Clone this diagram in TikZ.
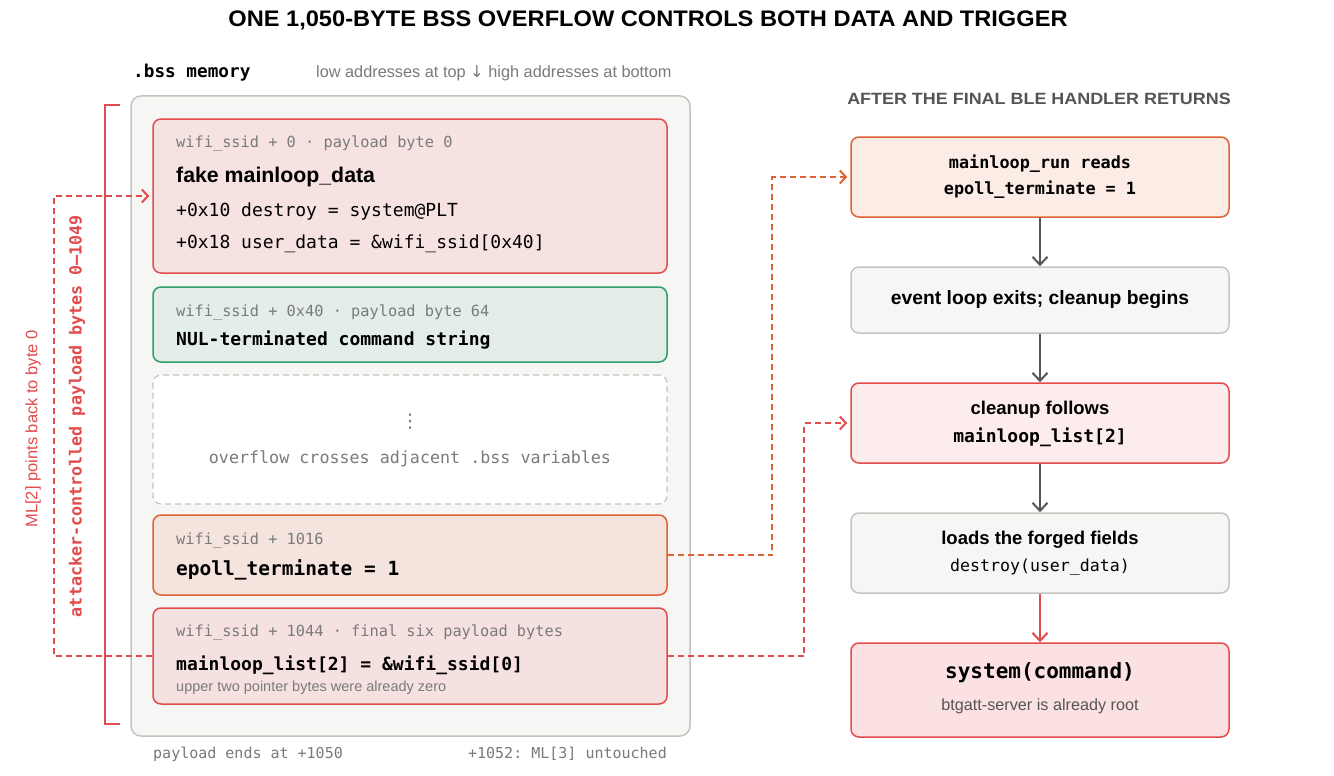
\documentclass[tikz,border=0pt]{standalone}
\usepackage{fontspec}
\setmainfont{Liberation Sans}
\setsansfont{Liberation Sans}
\setmonofont{DejaVu Sans Mono}
\newfontfamily\dejavu{DejaVu Sans}
\usetikzlibrary{arrows.meta}
\definecolor{redS}{HTML}{E24C4C}
\definecolor{orS}{HTML}{DF6234}
\definecolor{grS}{HTML}{2E9E6B}
\definecolor{gyS}{HTML}{C4C4C0}
\definecolor{contF}{HTML}{F6F6F4}
\definecolor{b1F}{HTML}{F6E3E1}
\definecolor{b2F}{HTML}{E4EEE8}
\definecolor{b4F}{HTML}{F4E4DD}
\definecolor{b5F}{HTML}{F6E1E1}
\definecolor{f1F}{HTML}{FBECE6}
\definecolor{f3F}{HTML}{FDECEC}
\definecolor{f5F}{HTML}{FBE1E1}
\definecolor{txtG}{HTML}{7A7A7A}
\definecolor{hdG}{HTML}{555555}
\definecolor{arG}{HTML}{555555}
\newcommand\setfs[1]{\fontsize{#1}{#1}\selectfont}
\tikzset{
  box/.style={rounded corners=8pt, line width=1.5pt, inner sep=0pt},
  lab/.style={inner sep=0pt, anchor=west},
  graylab/.style={lab, text=txtG, font=\ttfamily\setfs{15.3}},
  flowarr/.style={draw=arG, line width=2pt, -{Straight Barb[length=8pt,width=15pt,line width=2pt]}},
  dasharr/.style={line width=2pt, dash pattern=on 6pt off 4pt, -{Straight Barb[length=6pt,width=13pt,line width=2pt]}},
}
\begin{document}
\begin{tikzpicture}[x=1pt,y=-1pt]
\useasboundingbox[fill=white] (0,0) rectangle (1334,776);

% title
\node[inner sep=0pt, font=\bfseries\setfs{22.5}] (title) at (648,20) {\scalebox{1.05}[1]{ONE 1,050-BYTE BSS OVERFLOW CONTROLS BOTH DATA AND TRIGGER}};

% left header
\node[lab, font=\ttfamily\bfseries\setfs{17.7}] (bsshead) at (133,73) {.bss memory};
\node[lab, text=txtG, font=\setfs{16.3}] (addrnote) at (316,73) {low addresses at top {\dejavu ↓} high addresses at bottom};

% container
\node[box, draw=gyS, fill=contF, minimum width=559pt, minimum height=640pt, rounded corners=10pt] (cont) at (410.5,416) {};

% bracket
\draw[redS, line width=2.5pt] (120,105) -- (105,105) -- (105,724) -- (120,724);

% memory boxes
\node[box, draw=redS, fill=b1F, minimum width=514pt, minimum height=154pt] (b1) at (410,196) {};
\node[box, draw=grS, fill=b2F, minimum width=514pt, minimum height=75pt] (b2) at (410,324.5) {};
\node[box, draw=gyS, fill=white, dash pattern=on 6pt off 4pt, line width=1.2pt, minimum width=514pt, minimum height=129pt] (b3) at (410,439.5) {};
\node[box, draw=orS, fill=b4F, minimum width=514pt, minimum height=80pt] (b4) at (410,555) {};
\node[box, draw=redS, fill=b5F, minimum width=514pt, minimum height=96pt] (b5) at (410,656) {};

% box 1 text
\node[graylab] (b1a) at (176,143) {wifi\_ssid + 0 · payload byte 0};
\node[lab, font=\bfseries\setfs{21.3}] (b1b) at (176,177) {fake mainloop\_data};
\node[lab, font=\ttfamily\setfs{18}] (b1c) at (176,212) {+0x10 destroy = system@PLT};
\node[lab, font=\ttfamily\setfs{18}] (b1d) at (176,244) {+0x18 user\_data = \&wifi\_ssid[0x40]};

% box 2 text
\node[graylab] (b2a) at (176,312) {wifi\_ssid + 0x40 · payload byte 64};
\node[lab, font=\ttfamily\bfseries\setfs{18}] (b2b) at (176,340) {NUL-terminated command string};

% box 3 text
\node[inner sep=0pt, text=txtG, font=\dejavu\setfs{19}] (b3a) at (410,422) {⋮};
\node[inner sep=0pt, text=txtG, font=\ttfamily\setfs{16.7}] (b3b) at (410,459) {overflow crosses adjacent .bss variables};

% box 4 text
\node[graylab] (b4a) at (176,540) {wifi\_ssid + 1016};
\node[lab, font=\ttfamily\bfseries\setfs{19.5}] (b4b) at (176,570) {epoll\_terminate = 1};

% box 5 text
\node[graylab] (b5a) at (176,632) {wifi\_ssid + 1044 · final six payload bytes};
\node[lab, font=\ttfamily\bfseries\setfs{18}] (b5b) at (176,665) {mainloop\_list[2] = \&wifi\_ssid[0]};
\node[lab, text=txtG, font=\setfs{14.5}] (b5c) at (176,688) {upper two pointer bytes were already zero};

% bottom labels
\node[lab, text=txtG, font=\ttfamily\setfs{15}] (endl) at (153,754) {payload ends at +1050};
\node[inner sep=0pt, anchor=east, text=txtG, font=\ttfamily\setfs{15}] (endr) at (667,754) {+1052: ML[3] untouched};

% vertical labels
\node[inner sep=0pt, rotate=90, text=redS, font=\ttfamily\bfseries\setfs{16.7}] (attl) at (77,416) {attacker-controlled payload bytes 0–1049};
\node[inner sep=0pt, rotate=90, text=redS, font=\setfs{16.5}] (mll) at (33,429) {ML[2] points back to byte 0};

% right header
\node[inner sep=0pt, text=hdG, font=\bfseries\setfs{16.3}] (rhead) at (1039,99) {\scalebox{1.1}[1]{AFTER THE FINAL BLE HANDLER RETURNS}};

% flow boxes
\node[box, draw=orS, fill=f1F, minimum width=378pt, minimum height=80pt] (f1) at (1040,177) {};
\node[box, draw=gyS, fill=contF, minimum width=378pt, minimum height=66pt] (f2) at (1040,300) {};
\node[box, draw=redS, fill=f3F, minimum width=378pt, minimum height=80pt] (f3) at (1040,423) {};
\node[box, draw=gyS, fill=contF, minimum width=378pt, minimum height=80pt] (f4) at (1040,553) {};
\node[box, draw=redS, fill=f5F, minimum width=378pt, minimum height=94pt] (f5) at (1040,690) {};

% flow text
\node[inner sep=0pt, font=\ttfamily\bfseries\setfs{16.8}] (f1a) at (1040,164) {mainloop\_run reads};
\node[inner sep=0pt, font=\ttfamily\bfseries\setfs{16.8}] (f1b) at (1040,190) {epoll\_terminate = 1};
\node[inner sep=0pt, font=\bfseries\setfs{19.3}] (f2a) at (1040,300) {event loop exits; cleanup begins};
\node[inner sep=0pt, font=\bfseries\setfs{18.5}] (f3a) at (1040,410) {cleanup follows};
\node[inner sep=0pt, font=\ttfamily\bfseries\setfs{18}] (f3b) at (1040,437) {mainloop\_list[2]};
\node[inner sep=0pt, font=\bfseries\setfs{18.5}] (f4a) at (1040,540) {loads the forged fields};
\node[inner sep=0pt, font=\ttfamily\setfs{16.6}] (f4b) at (1040,567) {destroy(user\_data)};
\node[inner sep=0pt, font=\ttfamily\bfseries\setfs{21}] (f5a) at (1040,673) {system(command)};
\node[inner sep=0pt, text=hdG, font=\setfs{16.2}] (f5b) at (1040,706) {btgatt-server is already root};

% flow arrows
\draw[flowarr] (f1.south) -- (f2.north);
\draw[flowarr] (f2.south) -- (f3.north);
\draw[flowarr] (f3.south) -- (f4.north);
\draw[flowarr, draw=redS] (f4.south) -- (f5.north);

% dashed connectors
\draw[dasharr, orS, shorten >=3pt] (b4.east) -| ([xshift=-78pt]f1.west) -- (f1.west);
\draw[dasharr, redS, shorten >=3pt] (b5.east) -| ([xshift=-46pt]f3.west) -- (f3.west);
\draw[dasharr, redS, shorten >=3pt] (b5.west) -| ([xshift=-98pt]b1.west) -- (b1.west);
\end{tikzpicture}
\end{document}
